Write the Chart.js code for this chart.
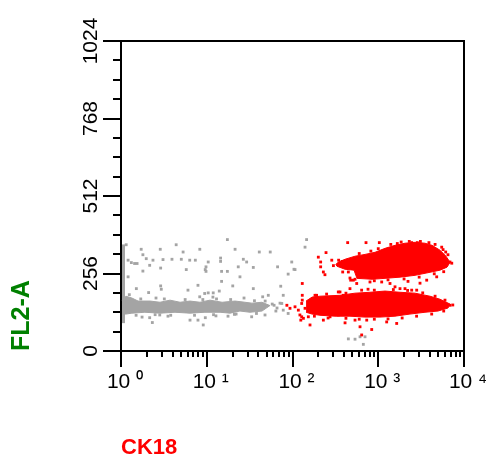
<!DOCTYPE html>
<html><head><meta charset="utf-8">
<script src="https://cdn.jsdelivr.net/npm/chart.js"></script>
<style>html,body{margin:0;padding:0;background:#fff}canvas{display:block}</style>
</head><body>
<canvas id="c" width="488" height="457" style="width:488px;height:457px"></canvas>
<script>
// ---- axis ticks / labels ----
const xTickValues = [1, 10, 100, 1000, 10000];
const xTickLabels = ['10 \u2070', '10 \u00b9', '10 \u00b2', '10 \u00b3', '10 \u2074'];
const yTickValues = [0, 256, 512, 768, 1024];
const yTickLabels = ['0', '256', '512', '768', '1024'];
const xTitle = 'CK18';
const yTitle = 'FL2-A';

// ---- red population (CK18 positive) : dense cores as upper/lower outlines [CK18, FL2-A] ----
const redUpperTop = [[321,286],[339,293],[410,303],[535,313],[700,319],[917,326],[1199,339],[1567,349],[2051,356],[2684,359],[3508,356],[4240,349],[5248,333],[6166,313],[6871,293]];
const redUpperBottom = [[321,286],[330,280],[410,270],[522,267],[565,240],[846,237],[1199,240],[1795,244],[2684,250],[4013,260],[5248,267],[6339,277],[6871,293]];
const redLowerTop = [[144,165],[169,178],[209,181],[358,184],[535,191],[801,194],[1199,198],[1795,194],[2684,191],[4013,181],[5248,171],[6871,155]];
const redLowerBottom = [[144,128],[169,122],[209,118],[313,115],[468,115],[700,112],[1047,112],[1567,115],[2345,122],[3508,128],[4977,132],[6506,142],[6871,155]];
// scattered red events
const redEvents = [[440,358],[720,358],[1029,358],[1668,355],[2455,358],[2853,358],
 [246,325],[200,310],[213,294],[287,300],[213,278],[229,261],[385,261],[448,261],
 [512,234],[561,223],[801,228],[1097,228],[1371,223],[1568,212],[1793,206],[2051,206],[2455,201],[2808,201],[3673,234],[4804,245],[6866,294],[6116,327],[5495,343],
 [130,223],[191,184],[219,174],[342,195],[130,184],[130,168],
 [86,151],[93.5,141],[107,146],[117,135],[128,157],[140,141],[122,119],[134,108],[153,113],[160,86],
 [229,102],[274,113],[342,119],[536,102],[613,80],[839,71],[734,102],[1254,96],[1641,91],[6866,151],[641,53],[410,93],
 [183,184],[358,195],[391,184],[477,234],[128,113],[125,102],
 [3069,224],[2223,230],[239,252],[468,241],[536,237],[468,206],[640,201],[760,204],
 [600,322],[820,330],[1000,338],[1400,352],[1850,360],[2300,362],[3100,362],[3900,358],[4600,352],[5700,335],[6500,318],
 [900,232],[1300,235],[2000,238],[3000,244],[4500,255],[5800,262],[7200,290],[345,300],[380,296],[300,282],
 [250,188],[420,191],[900,201],[1500,203],[2200,200],[3300,192],[4600,181],[6000,168],
 [180,115],[260,109],[420,108],[600,105],[900,105],[1300,106],[1900,109],[2800,115],[4200,122],[5800,132],[7400,152]];

// ---- gray population ----
const grayBandTop = [[1.03,168],[1.14,181],[1.34,175],[1.58,165],[2.18,165],[2.85,161],[3.73,168],[4.88,161],[6.38,165],[8.34,161],[10.9,168],[15.1,161],[21.4,165],[27.9,161],[33.7,158],[44.1,161],[54.6,150]];
const grayBandBottom = [[1.03,122],[1.14,122],[1.34,125],[1.9,128],[2.85,125],[4.26,128],[6.38,125],[9.54,128],[14.3,128],[18.7,125],[24.4,132],[31.9,128],[44.1,132],[54.6,150]];
const grayAxisStreak = [[1.07,92],[1.07,352]];
const grayEvents = [[1.15,351],[1.72,336],[2.87,336],[4.4,351],[5.3,327],[8.3,336],[17.4,368],[21.4,336],[41,327],[55,327],
 [1.8,318],[1.21,300],[1.32,292],[1.44,289],[1.54,289],[1.97,305],[2.36,300],[3.09,302],[3.93,303],[5.05,303],[6.33,300],[7.36,300],
 [1.8,264],[2.9,274],[2.16,283],[1.21,245],[5.77,269],[9.6,269],[1.51,206],[2.9,215],[2.95,204],[2.1,193],[7.9,217],[6.04,201],[9.46,190],[8.28,179],
 [2.16,110],[2.32,94],[2.83,119],[7.9,102],[9.62,110],[9.1,86],
 [14.5,307],[14.5,296],[26.7,303],[29.2,294],[10.4,294],[9.8,278],[9.8,263],[14.9,263],[17.4,263],[23.3,278],[34.9,276],[67,278],[98,294],[104,270],[89,254],
 [24.4,245],[14.9,230],[20.1,215],[34.9,206],[72.9,214],[14,198],[10.4,192],[11.9,192],[44.9,179],[52.2,184],
 [12.8,116],[21,121],[33.4,113],[47.8,119],[6.38,102],
 [146,368],[140,343],[107,269],
 [448,40],[536,39],[613,47],[701,47],[670,22],
 [78,184],[75,157],[89,124],[78,135],
 [61,151],[66,142],[71.5,158],[64,132],[58,155],
 [2.56,175],[11.8,178],[17.7,115],[3.53,115],[1.76,112],[27.2,175],
 [1.25,186],[1.7,172],[3.2,172],[5.6,170],[9.0,170],[13,172],[19,170],[36,166],[48,165],
 [1.5,118],[2.5,120],[3.8,118],[7.2,118],[12,120],[22,122],[38,124]];

const FONT = "'Liberation Sans', Arial, Helvetica, sans-serif";
const RED = '#ff0000';
const GRAY = '#a4a4a4';
Chart.defaults.font.family = FONT;

const pts = a => a.map(([x, y]) => ({x, y}));
const eventSet = (label, arr, color) => ({label, data: pts(arr), showLine: false, pointStyle: 'rect',
  pointRadius: 2, pointHoverRadius: 2, pointBorderWidth: 0, pointBackgroundColor: color, borderColor: color});
const edgeSet = (label, arr, color, fill) => ({label, data: pts(arr), showLine: true, fill, tension: 0,
  backgroundColor: color, borderColor: color, borderWidth: 1, pointRadius: 0, pointHoverRadius: 0});

const axisFrame = {
  id: 'axisFrame',
  afterDraw(chart) {
    const {ctx, chartArea: a, scales: {x, y}} = chart;
    ctx.save();
    ctx.strokeStyle = '#000';
    ctx.lineWidth = 2;
    ctx.beginPath();
    ctx.moveTo(a.left - 1, a.top); ctx.lineTo(a.right + 1, a.top);
    ctx.moveTo(a.right, a.top); ctx.lineTo(a.right, a.bottom);
    // log ticks on x
    for (let i = 0; i < xTickValues.length; i++) {
      const base = xTickValues[i];
      for (let k = 1; k <= (i === xTickValues.length - 1 ? 1 : 9); k++) {
        const px = Math.round(x.getPixelForValue(base * k));
        ctx.moveTo(px, a.bottom); ctx.lineTo(px, a.bottom + (k === 1 ? 16 : 6));
      }
    }
    // linear ticks on y (major every 256, minor every 64)
    for (let v = 0; v <= 1024; v += 64) {
      const py = Math.round(y.getPixelForValue(v));
      ctx.moveTo(a.left, py); ctx.lineTo(a.left - (v % 256 === 0 ? 18 : 8), py);
    }
    ctx.stroke();
    ctx.restore();
  }
};

new Chart(document.getElementById('c'), {
  type: 'line',
  data: {
    datasets: [
      eventSet('CK18+ events', redEvents, RED),
      edgeSet('CK18+ upper cluster', redUpperTop, RED, '+1'),
      edgeSet('CK18+ upper cluster (lower edge)', redUpperBottom, RED, false),
      edgeSet('CK18+ lower cluster', redLowerTop, RED, '+1'),
      edgeSet('CK18+ lower cluster (lower edge)', redLowerBottom, RED, false),
      eventSet('CK18- events', grayEvents, GRAY),
      edgeSet('CK18- band', grayBandTop, GRAY, '+1'),
      edgeSet('CK18- band (lower edge)', grayBandBottom, GRAY, false),
      Object.assign(edgeSet('CK18- on axis', grayAxisStreak, GRAY, false), {borderWidth: 3})
    ]
  },
  options: {
    responsive: false,
    animation: false,
    events: [],
    layout: {padding: {left: 0, top: 41, right: 24, bottom: 0}},
    plugins: {legend: {display: false}, tooltip: {enabled: false}},
    scales: {
      x: {
        type: 'logarithmic', min: 1, max: 10000,
        afterBuildTicks: s => { s.ticks = xTickValues.map(v => ({value: v, major: true})); },
        afterFit: s => { s.height = 106; s.paddingLeft = 0; s.paddingRight = 0; },
        grid: {display: false, drawTicks: false},
        border: {display: true, color: '#000', width: 2},
        ticks: {autoSkip: false, minRotation: 0, maxRotation: 0, padding: 19, labelOffset: 4, color: '#000',
          font: {family: FONT, size: 21},
          callback: v => { const i = xTickValues.indexOf(v); return i >= 0 ? xTickLabels[i] : ''; }},
        title: {display: true, text: xTitle, color: '#ff0000', align: 'start',
          font: {family: FONT, size: 22, weight: 'bold', lineHeight: 1}, padding: {top: 0, bottom: -2}}
      },
      y: {
        type: 'linear', min: 0, max: 1024,
        afterBuildTicks: s => { s.ticks = yTickValues.map(v => ({value: v})); },
        afterFit: s => { s.width = 121; s.paddingTop = 0; s.paddingBottom = 0; },
        grid: {display: false, drawTicks: false},
        border: {display: true, color: '#000', width: 2},
        ticks: {autoSkip: false, minRotation: 90, maxRotation: 90, crossAlign: 'center', align: 'center', padding: 6,
          color: '#000', font: {family: FONT, size: 21},
          callback: v => { const i = yTickValues.indexOf(v); return i >= 0 ? yTickLabels[i] : ''; }},
        title: {display: true, text: yTitle, color: '#008000', align: 'start',
          font: {family: FONT, size: 25, weight: 'bold', lineHeight: 1}, padding: {top: 10, bottom: 0}}
      }
    }
  },
  plugins: [axisFrame]
});
</script>
</body></html>
